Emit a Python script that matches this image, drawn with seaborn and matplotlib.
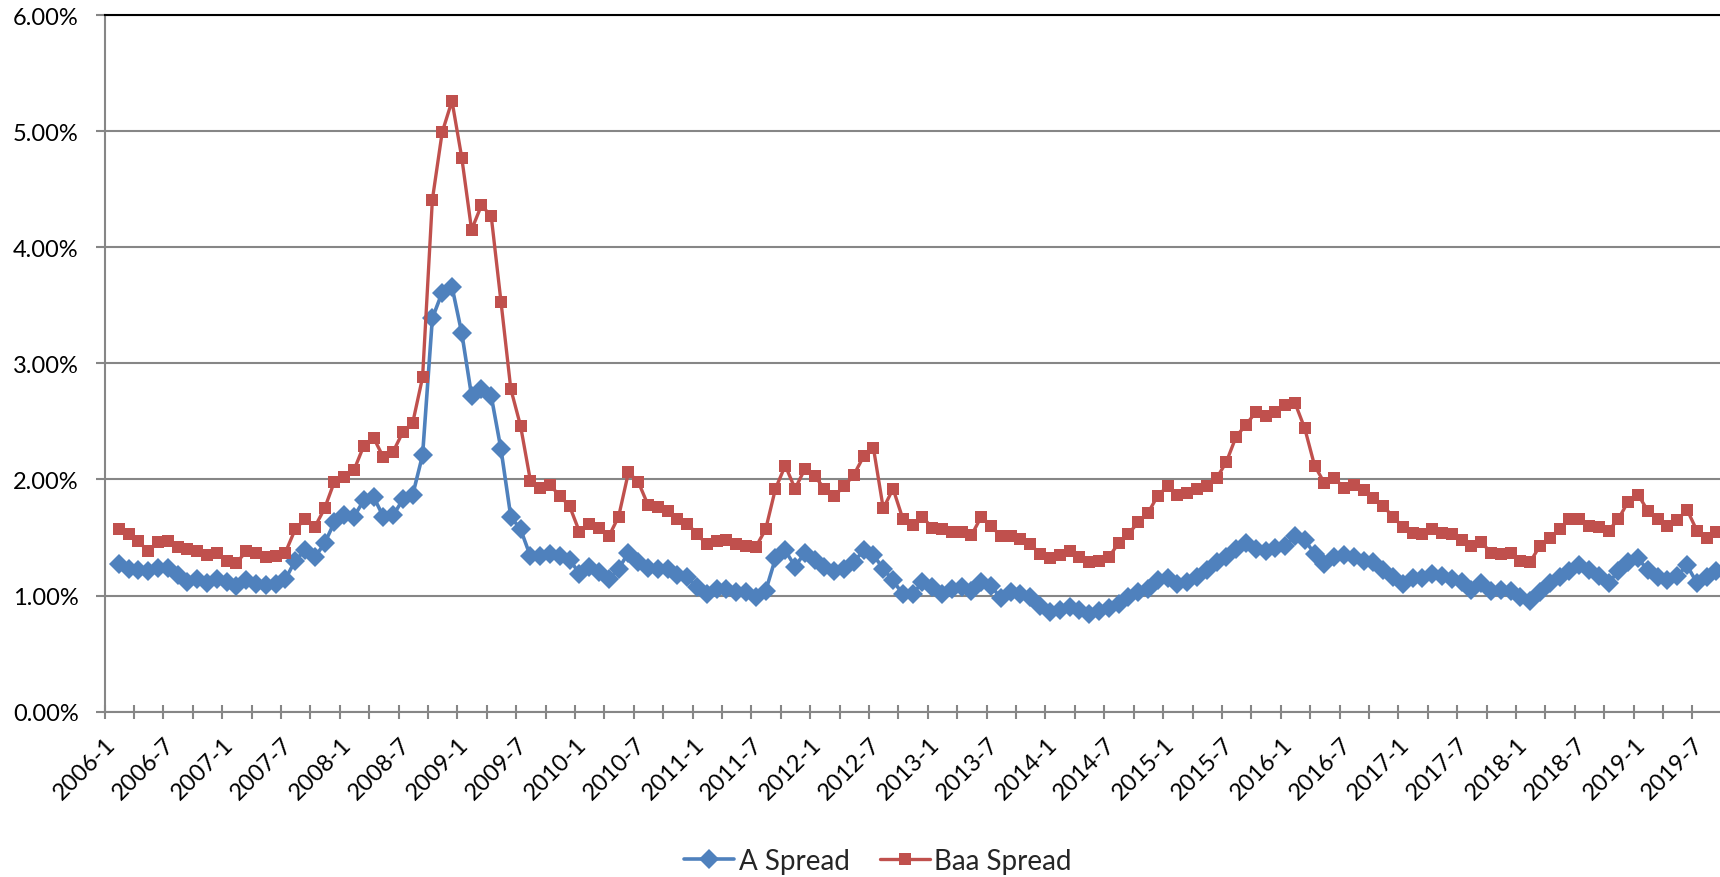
import numpy as np
import matplotlib
matplotlib.use("Agg")
import matplotlib.pyplot as plt
from matplotlib.ticker import FuncFormatter
from matplotlib.transforms import ScaledTranslation
import seaborn as sns

# Monthly credit spreads (%), 2006-1 onward
a_spread = [
    1.27, 1.23, 1.22, 1.21, 1.24, 1.24, 1.18, 1.12, 1.14, 1.11,
    1.14, 1.12, 1.08, 1.13, 1.10, 1.09, 1.10, 1.14, 1.30, 1.39,
    1.33, 1.45, 1.63, 1.69, 1.68, 1.82, 1.85, 1.68, 1.69, 1.83,
    1.87, 2.21, 3.39, 3.61, 3.66, 3.26, 2.72, 2.78, 2.72, 2.26,
    1.68, 1.57, 1.34, 1.34, 1.36, 1.34, 1.31, 1.19, 1.25, 1.20,
    1.14, 1.23, 1.37, 1.29, 1.24, 1.23, 1.23, 1.18, 1.16, 1.07,
    1.01, 1.06, 1.06, 1.03, 1.03, 0.99, 1.04, 1.32, 1.39, 1.25,
    1.37, 1.31, 1.25, 1.21, 1.23, 1.29, 1.39, 1.35, 1.23, 1.13,
    1.01, 1.01, 1.12, 1.07, 1.01, 1.06, 1.07, 1.04, 1.12, 1.08,
    0.98, 1.03, 1.01, 0.99, 0.91, 0.86, 0.88, 0.90, 0.88, 0.84,
    0.87, 0.89, 0.93, 0.99, 1.03, 1.06, 1.13, 1.15, 1.10, 1.12,
    1.16, 1.22, 1.29, 1.33, 1.40, 1.45, 1.40, 1.38, 1.41, 1.43,
    1.51, 1.48, 1.36, 1.27, 1.33, 1.35, 1.33, 1.30, 1.29, 1.22,
    1.16, 1.10, 1.15, 1.15, 1.19, 1.17, 1.14, 1.12, 1.05, 1.11,
    1.04, 1.05, 1.04, 0.99, 0.95, 1.03, 1.11, 1.16, 1.21, 1.26,
    1.22, 1.17, 1.11, 1.21, 1.29, 1.32, 1.22, 1.16, 1.13, 1.17,
    1.26, 1.11, 1.16, 1.21,
]

baa_spread = [
    1.57, 1.53, 1.47, 1.38, 1.46, 1.47, 1.42, 1.40, 1.38, 1.35,
    1.37, 1.30, 1.28, 1.38, 1.37, 1.33, 1.34, 1.37, 1.57, 1.66,
    1.59, 1.75, 1.98, 2.02, 2.08, 2.29, 2.36, 2.19, 2.24, 2.41,
    2.49, 2.88, 4.41, 4.99, 5.26, 4.77, 4.15, 4.36, 4.27, 3.53,
    2.78, 2.46, 1.99, 1.93, 1.95, 1.86, 1.77, 1.55, 1.62, 1.58,
    1.51, 1.68, 2.06, 1.98, 1.78, 1.76, 1.73, 1.66, 1.62, 1.53,
    1.44, 1.47, 1.48, 1.44, 1.43, 1.42, 1.57, 1.92, 2.12, 1.92,
    2.09, 2.03, 1.92, 1.86, 1.94, 2.04, 2.20, 2.27, 1.75, 1.92,
    1.66, 1.61, 1.68, 1.58, 1.57, 1.55, 1.55, 1.52, 1.68, 1.60,
    1.51, 1.51, 1.49, 1.44, 1.36, 1.32, 1.35, 1.38, 1.33, 1.29,
    1.30, 1.33, 1.45, 1.53, 1.63, 1.71, 1.86, 1.94, 1.87, 1.88,
    1.92, 1.94, 2.01, 2.15, 2.37, 2.47, 2.58, 2.55, 2.58, 2.64,
    2.66, 2.44, 2.12, 1.97, 2.01, 1.93, 1.95, 1.91, 1.84, 1.77,
    1.68, 1.59, 1.54, 1.53, 1.57, 1.54, 1.53, 1.48, 1.43, 1.46,
    1.37, 1.36, 1.37, 1.30, 1.29, 1.43, 1.50, 1.57, 1.66, 1.66,
    1.60, 1.59, 1.56, 1.66, 1.81, 1.87, 1.73, 1.66, 1.60, 1.65,
    1.74, 1.56, 1.50, 1.55,
]

tick_labels = [
    "2006-1", "2006-7", "2007-1", "2007-7", "2008-1", "2008-7", "2009-1",
    "2009-7", "2010-1", "2010-7", "2011-1", "2011-7", "2012-1", "2012-7",
    "2013-1", "2013-7", "2014-1", "2014-7", "2015-1", "2015-7", "2016-1",
    "2016-7", "2017-1", "2017-7", "2018-1", "2018-7", "2019-1", "2019-7",
]

series_names = ["A Spread", "Baa Spread"]
colors = ["#4F81BD", "#C0504D"]
axis_gray = "#868686"

sns.set_style("white")
plt.rcParams["font.family"] = ["Lato", "DejaVu Sans"]

W, H = 1720, 878
fig = plt.figure(figsize=(W / 100, H / 100), dpi=100)
left_px, right_px, top_px, bottom_px = 104.5, 1720, 16, 712.7
ax = fig.add_axes([left_px / W, (H - bottom_px) / H,
                   (right_px - left_px) / W, (bottom_px - top_px) / H])

month_px = 9.802
x_pos = np.arange(len(a_spread)) + 1.45

sns.lineplot(x=x_pos, y=a_spread, ax=ax, color=colors[0], linewidth=2.6,
             marker="D", markersize=10.5, markeredgewidth=0,
             label=series_names[0], zorder=3)
sns.lineplot(x=x_pos, y=baa_spread, ax=ax, color=colors[1], linewidth=2.4,
             marker="s", markersize=8.2, markeredgewidth=0,
             label=series_names[1], zorder=4)

ax.set_xlim(0, (right_px - left_px) / month_px)
ax.set_ylim(0, 6)
ax.set_yticks(np.arange(0, 7, 1))
ax.yaxis.set_major_formatter(FuncFormatter(lambda v, p: f"{v:.2f}%"))

major_ticks = np.arange(len(tick_labels)) * 6
ax.set_xticks(major_ticks)
ax.set_xticklabels(tick_labels, rotation=45, ha="right", va="center",
                   rotation_mode="anchor")
ax.set_xticks(np.arange(3, 163, 6), minor=True)

ax.set_xlabel("")
ax.set_ylabel("")
ax.yaxis.grid(True, color=axis_gray, linewidth=1.5)
ax.xaxis.grid(False)
ax.set_axisbelow(True)

for side in ["left", "bottom"]:
    ax.spines[side].set_color(axis_gray)
    ax.spines[side].set_linewidth(1.5)
ax.spines["right"].set_visible(False)
ax.spines["top"].set_color("black")
ax.spines["top"].set_linewidth(1.5)

ax.tick_params(axis="y", which="major", direction="out", length=6.5,
               width=1.5, color=axis_gray, pad=12, labelsize=17,
               labelcolor="black", left=True)
ax.tick_params(axis="x", which="both", direction="inout", length=9.5,
               width=1.5, color=axis_gray, pad=16, labelsize=17,
               labelcolor="black", bottom=True)

shift = ScaledTranslation(8 / 100, 0, fig.dpi_scale_trans)
for lab in ax.get_xticklabels():
    lab.set_transform(lab.get_transform() + shift)

handles, labels = ax.get_legend_handles_labels()
ax.get_legend().remove()
fig.legend(handles, labels, loc="center",
           bbox_to_anchor=(878 / W, 1 - 862 / H), ncol=2, frameon=False,
           fontsize=20, handlelength=1.8, handletextpad=0.15,
           columnspacing=1.1)

fig.savefig("out.png", dpi=100)
